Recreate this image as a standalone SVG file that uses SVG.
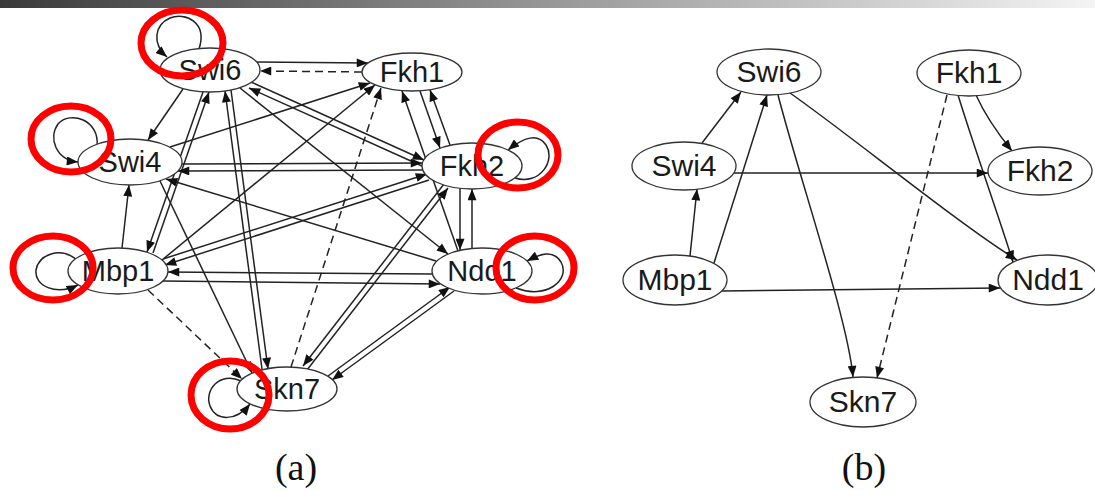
<svg xmlns="http://www.w3.org/2000/svg" width="1095" height="491" viewBox="0 0 1095 491">
<defs>
<linearGradient id="bar" x1="0" x2="1" y1="0" y2="0"><stop offset="0" stop-color="#3a3a3a"/><stop offset="1" stop-color="#f4f4f4"/></linearGradient>
<marker id="ah" viewBox="0 0 10 8" refX="10" refY="4" markerWidth="12" markerHeight="9" markerUnits="userSpaceOnUse" orient="auto"><path d="M0,0 L10,4 L0,8 z" fill="#111"/></marker>
</defs>
<style>
.e{fill:none;stroke:#222;stroke-width:1.5;marker-end:url(#ah)}
.d{stroke-dasharray:8 5}
.n ellipse{fill:#fff;stroke:#333;stroke-width:1.3}
.n text{font-family:"Liberation Sans",Arial,sans-serif;fill:#1a1a1a;text-anchor:middle}
.a text{font-size:29px}
.b text{font-size:30px}
.hl{fill:none;stroke:#f00;stroke-width:7}
.cap{font-family:"Liberation Serif","Times New Roman",serif;font-size:38px;fill:#111;text-anchor:middle}
</style>
<rect x="0" y="0" width="1095" height="8" fill="url(#bar)"/>
<g id="connectors">
<g id="edges-a">
<path class="e" d="M199,49 C208,22 185,12 170,18 C154,25 152,44 167,57"/>
<path class="e" d="M97,146 C100,120 70,110 58,124 C48,138 56,160 78,162"/>
<path class="e" d="M515,178 C540,186 556,160 546,145 C538,133 524,137 508,150"/>
<path class="e" d="M76,259 C60,247 39,254 36,270 C34,286 56,296 78,285"/>
<path class="e" d="M516,288 C546,300 571,280 561,262 C553,249 540,254 527,261"/>
<path class="e" d="M241,381 C220,371 204,390 210,406 C216,421 236,422 250,404"/>
<path class="e" d="M257,62 L368,63"/>
<path class="e d" d="M362,72 L260,71"/>
<path class="e" d="M183,89 L148,140"/>
<path class="e" d="M203,92 L147,252"/>
<path class="e" d="M153,253 L209,92"/>
<path class="e" d="M231,90 L268,369"/>
<path class="e" d="M262,369 L225,91"/>
<path class="e" d="M251,82 L424,160"/>
<path class="e" d="M422,166 L249,88"/>
<path class="e" d="M240,88 L448,254"/>
<path class="e" d="M182,164 L422,163"/>
<path class="e" d="M423,170 L178,171"/>
<path class="e" d="M163,259 L427,174"/>
<path class="e" d="M429,180 L165,265"/>
<path class="e" d="M432,274 L168,272"/>
<path class="e" d="M163,281 L440,284"/>
<path class="e" d="M122,248 L129,185"/>
<path class="e" d="M160,181 L252,373"/>
<path class="e" d="M436,261 L166,179"/>
<path class="e" d="M170,147 L370,83"/>
<path class="e" d="M162,260 L375,85"/>
<path class="e d" d="M148,290 L242,379"/>
<path class="e d" d="M291,367 L381,88"/>
<path class="e" d="M420,91 L440,148"/>
<path class="e" d="M450,145 L430,90"/>
<path class="e" d="M458,251 L402,91"/>
<path class="e" d="M460,188 L460,250"/>
<path class="e" d="M472,249 L472,189"/>
<path class="e" d="M307,370 L448,188"/>
<path class="e" d="M444,184 L303,366"/>
<path class="e" d="M328,376 L450,287"/>
<path class="e" d="M454,291 L332,380"/>
</g>
<g id="edges-b">
<path class="e" d="M702,143 L741,92"/>
<path class="e" d="M690,256 L697,189"/>
<path class="e" d="M714,263 L767,95"/>
<path class="e" d="M778,95 C800,180 848,320 853,377"/>
<path class="e d" d="M947,95 L877,378"/>
<path class="e" d="M790,93 C850,135 960,225 1017,260"/>
<path class="e" d="M958,95 C975,150 1000,220 1013,262"/>
<path class="e" d="M976,95 C985,115 995,130 1012,151"/>
<path class="e" d="M734,173 L988,173"/>
<path class="e" d="M722,291 L1000,288"/>
</g>
</g>
<g id="a-Swi6" class="n a"><ellipse cx="210" cy="70" rx="50" ry="22"/><text x="210" y="80">Swi6</text></g>
<g id="a-Fkh1" class="n a"><ellipse cx="412" cy="72" rx="50" ry="19"/><text x="412" y="82">Fkh1</text></g>
<g id="a-Swi4" class="n a"><ellipse cx="130" cy="162" rx="52" ry="23"/><text x="130" y="172">Swi4</text></g>
<g id="a-Fkh2" class="n a"><ellipse cx="472" cy="166" rx="50" ry="23"/><text x="472" y="176">Fkh2</text></g>
<g id="a-Mbp1" class="n a"><ellipse cx="118" cy="271" rx="50" ry="23"/><text x="118" y="281">Mbp1</text></g>
<g id="a-Ndd1" class="n a"><ellipse cx="482" cy="271" rx="50" ry="23"/><text x="482" y="281">Ndd1</text></g>
<g id="a-Skn7" class="n a"><ellipse cx="287" cy="389" rx="50" ry="22"/><text x="287" y="399">Skn7</text></g>
<g id="b-Swi6" class="n b"><ellipse cx="769" cy="72" rx="52" ry="23"/><text x="769" y="82">Swi6</text></g>
<g id="b-Fkh1" class="n b"><ellipse cx="969" cy="73" rx="52" ry="23"/><text x="969" y="83">Fkh1</text></g>
<g id="b-Swi4" class="n b"><ellipse cx="684" cy="166" rx="52" ry="24"/><text x="684" y="176">Swi4</text></g>
<g id="b-Fkh2" class="n b"><ellipse cx="1040" cy="171" rx="52" ry="24"/><text x="1040" y="181">Fkh2</text></g>
<g id="b-Mbp1" class="n b"><ellipse cx="675" cy="280" rx="52" ry="25"/><text x="675" y="290">Mbp1</text></g>
<g id="b-Ndd1" class="n b"><ellipse cx="1048" cy="280" rx="50" ry="25"/><text x="1048" y="290">Ndd1</text></g>
<g id="b-Skn7" class="n b"><ellipse cx="863" cy="402" rx="53" ry="25"/><text x="863" y="412">Skn7</text></g>
<g id="highlights">
<ellipse class="hl" cx="182" cy="43" rx="41" ry="33"/>
<ellipse class="hl" cx="71" cy="139" rx="40" ry="33"/>
<ellipse class="hl" cx="518" cy="155" rx="40" ry="33"/>
<ellipse class="hl" cx="53" cy="268" rx="40" ry="32"/>
<ellipse class="hl" cx="535" cy="268" rx="39" ry="32"/>
<ellipse class="hl" cx="230" cy="395" rx="39" ry="34"/>
</g>
<text class="cap" x="296" y="480">(a)</text>
<text class="cap" x="864" y="480">(b)</text>
</svg>
